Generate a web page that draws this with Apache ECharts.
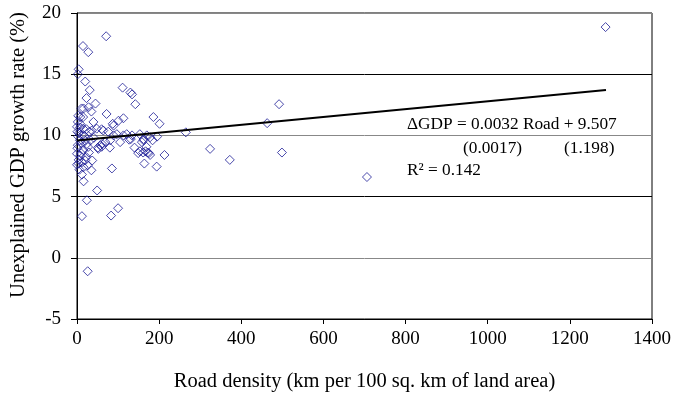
<!DOCTYPE html>
<html>
<head>
<meta charset="utf-8">
<script src="https://cdn.jsdelivr.net/npm/echarts@6/dist/echarts.min.js"></script>
<style>
  html, body { margin: 0; padding: 0; background: #fff; }
  #chart { width: 674px; height: 398px; }
</style>
</head>
<body>
<div id="chart"></div>
<script>
  // road density (km per 100 sq km) and unexplained GDP growth (%)
  var roadDensity = [
    1287, 71, 14.6, 27.5, 4, 2, 20, 31, 23, 111, 130, 134, 142, 45, 16, 28, 35, 72, 11, 3,
    8, 15, 87, 89, 113, 101, 186, 201, 40, 265, 492, 463, 324, 372, 499, 706, 213, 194, 164, 167,
    172, 175, 178, 161, 149, 140, 85, 37, 35, 16, 12, 49, 24, 12, 83, 100, 26, 80, 105, 127,
    131, 158, 162, 184, 178, 195, 51, 57, 61, 69, 81, 89, 97, 113, 134, 153, 121, 170, 162, 60,
    64, 76, 48, 36, 23, 15, 7, 0, 52, 60, 153, 169, 0, 4, 12, 20, 16, 8, 0, 3,
    7, 11, 19, 27, 15, 10, 22, 4, 26, 2, 5, 13, 9, 2, 1, 30, 18, 6, 1, 24,
    33, 41, 29
  ];
  var gdpGrowth = [
    18.85, 18.1, 17.3, 16.8, 15.4, 15.0, 14.4, 13.7, 13.05, 13.9, 13.5, 13.35, 12.55, 12.6, 12.2, 12.3, 11.95, 11.75, 12.2, 11.6,
    11.5, 11.5, 10.95, 10.8, 11.4, 11.2, 11.5, 10.95, 11.1, 10.25, 12.55, 11.0, 8.9, 8.0, 8.6, 6.6, 8.4, 7.45, 7.7, 8.7,
    8.6, 8.55, 8.4, 8.6, 8.55, 9.0, 7.3, 7.95, 7.15, 6.25, 6.8, 5.5, 4.7, 3.4, 3.45, 4.05, -1.1, 9.0, 9.45, 9.65,
    9.7, 9.45, 9.6, 9.6, 9.85, 9.9, 9.0, 9.2, 9.3, 9.45, 9.6, 10.0, 10.1, 10.0, 10.0, 10.1, 10.1, 10.0, 9.7, 10.5,
    10.4, 10.3, 10.55, 10.4, 10.5, 10.55, 10.65, 10.7, 8.9, 9.07, 8.7, 9.07, 7.6, 7.7, 7.8, 7.95, 7.4, 8.35, 8.5, 9.9,
    9.6, 9.35, 9.6, 9.05, 8.8, 8.55, 8.25, 8.0, 7.55, 9.2, 10.2, 10.0, 10.9, 11.1, 10.3, 10.3, 9.95, 7.2, 8.95, 9.3,
    9.6, 9.8, 8.6
  ];
  // fitted line end points as drawn
  var fitX = [0, 1288];
  var fitY = [9.58, 13.7];
  var xTicks = [0, 200, 400, 600, 800, 1000, 1200, 1400];
  var yTicks = [-5, 0, 5, 10, 15, 20];

  var points = roadDensity.map(function (x, i) { return [x, gdpGrowth[i]]; });
  var fitLine = fitX.map(function (x, i) { return [x, fitY[i]]; });

  var font = 'Liberation Serif, Times New Roman, serif';
  var chart = echarts.init(document.getElementById('chart'));

  var option = {
    animation: false,
    backgroundColor: '#fff',
    textStyle: { fontFamily: font, color: '#000' },
    grid: {
      left: 77, right: 21, top: 13, bottom: 79,
      show: true, borderColor: '#000', borderWidth: 1
    },
    xAxis: {
      type: 'value',
      min: xTicks[0], max: xTicks[xTicks.length - 1], interval: 200,
      name: 'Road density (km per 100 sq. km of land area)',
      nameLocation: 'middle', nameGap: 52,
      nameTextStyle: { fontSize: 20.5, fontFamily: font, color: '#000' },
      axisLine: { onZero: false, lineStyle: { color: '#000' } },
      axisTick: { show: true, length: 5, lineStyle: { color: '#000' } },
      axisLabel: {
        fontSize: 19, fontFamily: font, color: '#000', margin: 11,
        formatter: function (v) { return String(v); }
      },
      splitLine: { show: false }
    },
    yAxis: {
      type: 'value',
      min: yTicks[0], max: yTicks[yTicks.length - 1], interval: 5,
      name: 'Unexplained GDP growth rate (%)',
      nameLocation: 'middle', nameGap: 48,
      nameTextStyle: { fontSize: 20.5, fontFamily: font, color: '#000', padding: [0, 0, 0, 22] },
      axisLine: { onZero: false, lineStyle: { color: '#000' } },
      axisTick: { show: true, length: 6, lineStyle: { color: '#000' } },
      axisLabel: { fontSize: 19, fontFamily: font, color: '#000', margin: 16 },
      splitLine: { show: true, lineStyle: { color: ['#000', '#888'], width: 1 } }
    },
    series: [
      {
        type: 'scatter',
        data: points,
        symbol: 'diamond',
        symbolSize: 9,
        itemStyle: { color: 'rgba(0,0,0,0)', borderColor: '#1c1c96', borderWidth: 1 },
        z: 3
      },
      {
        type: 'line',
        data: fitLine,
        showSymbol: false,
        symbol: 'none',
        lineStyle: { color: '#000', width: 2 },
        z: 4
      }
    ],
    graphic: [
      {
        type: 'text', left: 405, top: 116, z: 100,
        style: {
          text: 'ΔGDP = 0.0032 Road + 9.507',
          font: '17.3px ' + font, fill: '#000',
          backgroundColor: '#fff', padding: [0, 8, 0, 2]
        }
      },
      {
        type: 'text', left: 463, top: 140, z: 100,
        style: { text: '(0.0017)', font: '17.3px ' + font, fill: '#000' }
      },
      {
        type: 'text', left: 564, top: 140, z: 100,
        style: { text: '(1.198)', font: '17.3px ' + font, fill: '#000' }
      },
      {
        type: 'text', left: 407, top: 162, z: 100,
        style: { text: 'R² = 0.142', font: '17.3px ' + font, fill: '#000' }
      }
    ]
  };

  chart.setOption(option);
</script>
</body>
</html>
